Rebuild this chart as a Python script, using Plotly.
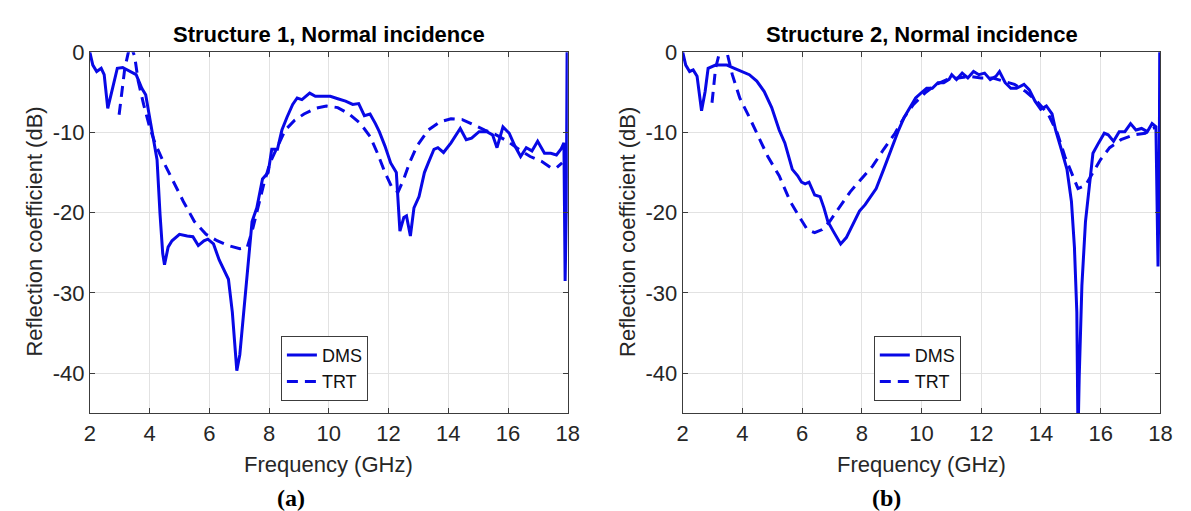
import plotly.graph_objects as go

# ---- Structure 1 ----
f_dms1 = [2.0, 2.1, 2.23, 2.38, 2.48, 2.6, 2.76, 2.92, 3.1, 3.36, 3.55, 3.74, 3.87, 4.0, 4.12, 4.25,
          4.35, 4.44, 4.5, 4.62, 4.75, 5.0, 5.26, 5.45, 5.63, 5.82, 5.95, 6.14, 6.33, 6.52, 6.64,
          6.77, 6.92, 7.02, 7.15, 7.27, 7.43, 7.59, 7.78, 7.97, 8.09, 8.28, 8.43, 8.6, 8.79, 8.94,
          9.1, 9.36, 9.55, 9.8, 10.05, 10.3, 10.56, 10.8, 11.0, 11.19, 11.38, 11.56, 11.69, 11.88,
          12.07, 12.26, 12.38, 12.51, 12.6, 12.73, 12.85, 13.02, 13.2, 13.33, 13.52, 13.65, 13.84,
          14.09, 14.4, 14.6, 14.78, 15.03, 15.29, 15.48, 15.63, 15.83, 16.04, 16.23, 16.42, 16.61,
          16.8, 16.99, 17.22, 17.43, 17.62, 17.77, 17.87, 17.91, 17.95, 17.98, 18.0]
dms1 = [0.0, -1.6, -2.4, -2.0, -2.8, -7.0, -4.5, -2.0, -1.9, -2.4, -2.8, -4.5, -5.3, -8.1, -10.5, -13.4,
        -20.2, -25.1, -26.5, -24.3, -23.5, -22.7, -22.9, -23.0, -24.1, -23.5, -23.3, -23.9, -25.9, -27.5, -28.3,
        -32.4, -39.7, -37.7, -32.4, -28.3, -21.1, -19.4, -15.8, -15.0, -12.1, -12.1, -9.7, -8.1, -6.5, -5.7,
        -5.9, -5.1, -5.5, -5.5, -5.5, -5.8, -6.1, -6.5, -6.4, -7.9, -7.7, -8.9, -9.9, -11.7,
        -13.8, -15.0, -22.3, -20.6, -20.4, -22.9, -19.4, -18.0, -15.0, -13.8, -12.1, -11.9, -12.5,
        -11.3, -9.5, -10.9, -10.7, -9.9, -9.9, -10.3, -11.9, -9.3, -10.1, -11.7, -13.0, -11.9,
        -12.3, -11.1, -12.6, -12.6, -12.8, -12.1, -11.3, -28.5, -20.0, 3.0, -8.8]

f_trt1 = [2.98, 3.17, 3.35, 3.5, 3.62, 3.8, 4.0, 4.18, 4.43, 4.75, 5.13, 5.5, 5.89, 6.26, 6.64, 7.02,
          7.27, 7.46, 7.65, 7.84, 8.03, 8.28, 8.54, 8.85, 9.17, 9.55, 9.92, 10.3, 10.68, 11.06, 11.38,
          11.63, 11.88, 12.13, 12.32, 12.51, 12.7, 12.95, 13.33, 13.71, 14.09, 14.47, 14.85, 15.22,
          15.6, 15.98, 16.36, 16.74, 17.12, 17.43, 17.62, 17.81]
trt1 = [-7.8, -2.0, 1.0, -0.5, -3.6, -6.5, -9.3, -11.3, -13.4, -15.8, -18.6, -21.1, -22.7, -23.5, -24.1, -24.5,
        -24.3, -21.9, -19.0, -16.2, -13.8, -11.7, -9.7, -8.5, -7.7, -7.0, -6.7, -6.9, -7.7, -8.9, -10.5,
        -12.6, -15.0, -17.0, -17.4, -15.8, -13.8, -11.7, -9.7, -8.7, -8.3, -8.4, -9.1, -9.7,
        -10.3, -11.1, -12.1, -13.0, -13.6, -14.4, -14.4, -13.8]

# ---- Structure 2 ----
f_dms2 = [2.0, 2.1, 2.23, 2.35, 2.48, 2.63, 2.75, 2.85, 3.1, 3.48, 3.73, 3.98, 4.23, 4.48, 4.73, 4.98,
          5.23, 5.42, 5.54, 5.67, 5.85, 5.98, 6.1, 6.23, 6.42, 6.6, 6.73, 6.86, 7.04, 7.29, 7.48,
          7.73, 7.92, 8.11, 8.3, 8.48, 8.73, 8.98, 9.23, 9.42, 9.61, 9.8, 9.98, 10.17, 10.36, 10.55,
          10.74, 10.92, 11.01, 11.17, 11.36, 11.55, 11.74, 11.92, 12.11, 12.3, 12.49, 12.61, 12.8,
          12.99, 13.18, 13.43, 13.61, 13.8, 13.99, 14.18, 14.37, 14.49, 14.68, 14.87, 15.02, 15.12,
          15.2, 15.24, 15.28, 15.37, 15.49, 15.62, 15.74, 15.93, 16.12, 16.25, 16.43, 16.62, 16.81,
          17.0, 17.18, 17.37, 17.56, 17.72, 17.85, 17.92, 17.96, 17.98, 18.0]
dms2 = [0.0, -1.6, -2.4, -2.2, -3.0, -7.3, -4.9, -2.0, -1.6, -1.6, -2.0, -2.4, -2.8, -3.6, -4.9, -6.9,
        -9.7, -11.3, -13.0, -14.6, -15.4, -16.2, -16.4, -16.2, -17.8, -18.0, -19.4, -21.1, -22.3, -23.9, -23.1,
        -21.1, -19.8, -19.0, -18.0, -17.0, -14.6, -12.1, -9.7, -8.1, -6.9, -5.7, -5.1, -4.5, -4.5, -3.8,
        -3.8, -3.4, -2.8, -3.4, -2.6, -3.2, -2.4, -2.8, -2.6, -3.4, -3.0, -2.4, -3.8,
        -4.5, -4.5, -4.0, -4.7, -6.1, -7.1, -6.7, -7.7, -9.7, -12.1, -14.6, -18.6, -24.3,
        -32.4, -48.0, -40.5, -29.1, -21.1, -16.2, -12.6, -11.3, -10.1, -10.3, -11.1, -9.9, -9.9,
        -8.9, -9.7, -9.5, -9.9, -8.9, -9.3, -26.7, -16.2, 3.0, -6.7]

f_trt2 = [2.98, 3.1, 3.3, 3.48, 3.66, 3.91, 4.23, 4.54, 4.85, 5.23, 5.6, 5.92, 6.17, 6.42, 6.67, 6.92,
          7.23, 7.61, 7.98, 8.36, 8.73, 9.11, 9.42, 9.73, 10.11, 10.49, 10.86, 11.24, 11.61, 11.99,
          12.36, 12.74, 13.11, 13.49, 13.86, 14.24, 14.55, 14.8, 15.05, 15.24, 15.49, 15.74, 15.99,
          16.3, 16.68, 17.12, 17.49, 17.74, 17.87]
trt2 = [-6.3, -2.0, 1.0, 0.0, -2.8, -5.7, -8.1, -10.5, -13.0, -15.4, -18.6, -20.6, -22.1, -22.5, -22.1, -21.1,
        -19.4, -17.4, -15.8, -14.2, -12.1, -10.1, -8.1, -6.5, -5.1, -4.0, -3.4, -3.2, -3.0, -3.2,
        -3.2, -3.6, -4.0, -4.9, -6.1, -7.7, -10.1, -13.0, -15.4, -17.0, -16.6, -15.0, -13.4,
        -11.9, -10.9, -10.3, -10.1, -9.5, -9.3]

titles = ["Structure 1, Normal incidence", "Structure 2, Normal incidence"]
panel_tags = ["(a)", "(b)"]
x_ticks = [2, 4, 6, 8, 10, 12, 14, 16, 18]
y_ticks = [0, -10, -20, -30, -40]
y_ticktext = ["0", "-10", "-20", "-30", "-40"]

W, H = 1191, 511
BLUE = "#0808e6"
FONT = "Liberation Sans, Arial, sans-serif"
AX = "#3c3c3c"


def px(x):
    return x / W


def py(y):
    return 1 - y / H


fig = go.Figure()

panels = [(f_dms1, dms1, f_trt1, trt1, "x", "y", "legend"),
          (f_dms2, dms2, f_trt2, trt2, "x2", "y2", "legend2")]
for fd, d, ft, t, xa, ya, lg in panels:
    fig.add_trace(go.Scatter(x=fd, y=d, mode="lines", name="DMS", xaxis=xa, yaxis=ya, legend=lg,
                             line=dict(color=BLUE, width=3)))
    fig.add_trace(go.Scatter(x=ft, y=t, mode="lines", name="TRT", xaxis=xa, yaxis=ya, legend=lg,
                             line=dict(color=BLUE, width=3, dash="11px,7px")))

plot_left = [77, 679]
plot_right = [562.3, 1164]
top, bottom = 33, 402.7

axis_common = dict(showline=True, linecolor=AX, linewidth=1, mirror="ticks",
                   ticks="inside", ticklen=5, tickcolor=AX,
                   showgrid=True, gridcolor="#e2e2e2", gridwidth=1, zeroline=False,
                   tickfont=dict(family=FONT, size=22, color="#262626"))

for i in range(2):
    sfx = "" if i == 0 else str(i + 1)
    fig.layout["xaxis" + sfx] = dict(axis_common, domain=[px(plot_left[i]), px(plot_right[i])],
                                     range=[2, 18], tickvals=x_ticks, anchor="y" + sfx)
    fig.layout["yaxis" + sfx] = dict(axis_common, domain=[py(bottom), py(top)],
                                     range=[-45, 0], tickvals=y_ticks, ticktext=y_ticktext,
                                     anchor="x" + sfx)

annotations = []
centers = [(plot_left[i] + plot_right[i]) / 2 for i in range(2)]
ytitle_x = [21, 623.5]
tag_x = [281.6, 886]
base = dict(xref="paper", yref="paper", showarrow=False, xanchor="center", yanchor="middle")
for i in range(2):
    annotations.append(dict(base, text="<b>" + titles[i] + "</b>", x=px(centers[i]), y=py(15),
                            font=dict(family=FONT, size=22, color="black")))
    annotations.append(dict(base, text="Frequency (GHz)", x=px(centers[i]), y=py(455),
                            font=dict(family=FONT, size=22, color="#262626")))
    annotations.append(dict(base, text="Reflection coefficient (dB)", x=px(ytitle_x[i]), y=py(217),
                            textangle=-90, font=dict(family=FONT, size=22, color="#262626")))
    annotations.append(dict(base, text="<b>" + panel_tags[i] + "</b>", x=px(tag_x[i]), y=py(490),
                            font=dict(family="Liberation Serif, Times New Roman, serif", size=24,
                                      color="black")))

legend_style = dict(yanchor="bottom", xanchor="left", bgcolor="white", bordercolor=AX, borderwidth=1,
                    font=dict(family=FONT, size=18, color="#111111"), tracegroupgap=0)

fig.update_layout(
    width=W, height=H,
    margin=dict(l=0, r=0, t=0, b=0),
    paper_bgcolor="white", plot_bgcolor="white",
    annotations=annotations,
    legend=dict(legend_style, x=px(271), y=py(390)),
    legend2=dict(legend_style, x=px(873), y=py(390)),
)

fig.write_html("out.html")
